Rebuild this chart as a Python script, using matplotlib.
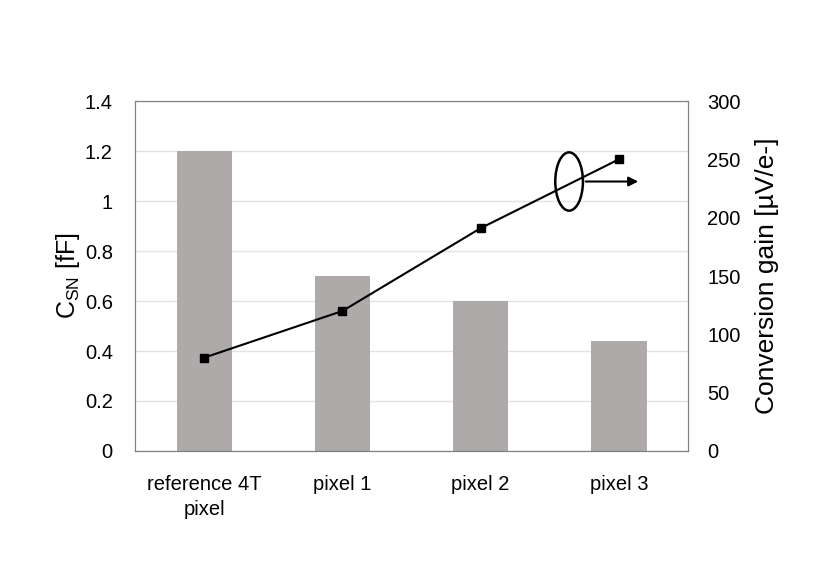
import matplotlib
matplotlib.use("Agg")
import matplotlib.pyplot as plt
from matplotlib.patches import Ellipse

categories = ["reference 4T\npixel", "pixel 1", "pixel 2", "pixel 3"]
csn_ff = [1.2, 0.7, 0.6, 0.44]
conv_gain = [80, 120, 191, 250]

plt.rcParams["font.family"] = ["Liberation Sans", "DejaVu Sans"]

fig = plt.figure(figsize=(8.3, 5.87), dpi=100)
ax = fig.add_axes([0.1627, 0.2317, 0.6662, 0.5962])
x = list(range(len(categories)))

ax.bar(x, csn_ff, width=0.4, color="#ADAAA9", zorder=2)
ax.set_xlim(-0.5, 3.5)
ax.set_ylim(0, 1.4)
ax.set_yticks([0, 0.2, 0.4, 0.6, 0.8, 1.0, 1.2, 1.4])
ax.set_yticklabels(["0", "0.2", "0.4", "0.6", "0.8", "1", "1.2", "1.4"])
ax.set_xticks(x)
ax.set_xticklabels(categories, fontsize=14.5, linespacing=1.45)
ax.tick_params(axis="x", length=0, pad=17)
ax.tick_params(axis="y", length=0, pad=16, labelsize=14.5)
ax.grid(axis="y", color="#E3E3E3", linewidth=1, zorder=0)
ax.set_axisbelow(True)
for s in ax.spines.values():
    s.set_color("#808080")
ax.set_ylabel("C$_{\\mathregular{SN}}$ [fF]", fontsize=18, labelpad=2)

ax2 = ax.twinx()
ax2.plot(x, conv_gain, color="black", linewidth=1.5, marker="s", markersize=5.5, zorder=3)
ax2.set_ylim(0, 300)
ax2.set_yticks([0, 50, 100, 150, 200, 250, 300])
ax2.tick_params(axis="y", length=0, pad=14, labelsize=14.5)
for s in ax2.spines.values():
    s.set_color("#808080")
ax2.set_ylabel("Conversion gain [µV/e-]", fontsize=19, labelpad=10)

ax2.add_patch(Ellipse((2.64, 231), 0.2, 50, fill=False, edgecolor="black", linewidth=1.8, zorder=4))
ax2.annotate("", xy=(3.16, 231), xytext=(2.74, 231),
             arrowprops=dict(arrowstyle="-|>", color="black", linewidth=1.5, mutation_scale=14))

fig.savefig("out.png", dpi=100)
